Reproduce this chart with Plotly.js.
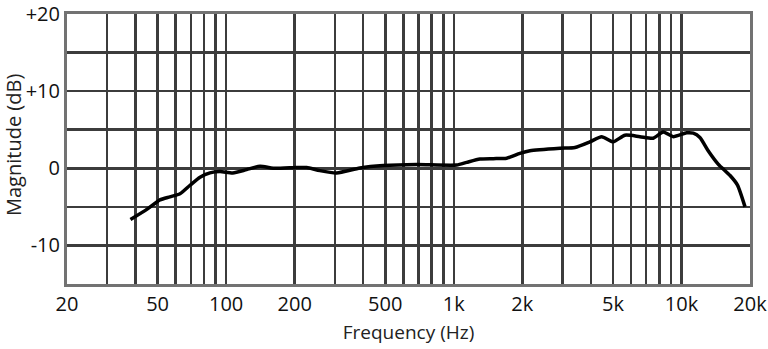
<!DOCTYPE html>
<html>
<head>
<meta charset="utf-8">
<script src="https://cdn.plot.ly/plotly-3.0.1.min.js"></script>
<style>html,body{margin:0;padding:0;background:#fff;}#chart{width:768px;height:349px;}</style>
</head>
<body>
<div id="chart"></div>
<script>
// Frequency response data
const freqHz = [38, 45, 51.2, 56.6, 62.7, 69.4, 76.8, 84.9, 94, 107, 123, 141, 161, 204, 226, 258, 306, 387, 490, 687, 1029, 1139, 1303, 1490, 1707, 1951, 2160, 2925, 3406, 3963, 4460, 5015, 5647, 6565, 7515, 8314, 9198, 10530, 11270, 12050, 13100, 14490, 16350, 17600, 19020];
const magnitudeDb = [-6.65, -5.3, -4.1, -3.7, -3.3, -2.2, -1.16, -0.6, -0.43, -0.6, -0.17, 0.26, 0.0, 0.1, 0.1, -0.3, -0.6, 0.04, 0.35, 0.48, 0.42, 0.77, 1.2, 1.25, 1.3, 1.93, 2.28, 2.6, 2.7, 3.43, 4.1, 3.43, 4.29, 4.1, 3.9, 4.7, 4.1, 4.6, 4.55, 4.0, 2.28, 0.55, -0.94, -2.15, -5.0];

const xGridVals = [20, 30, 40, 50, 60, 70, 80, 90, 100, 200, 300, 400, 500, 600, 700, 800, 900, 1000, 2000, 3000, 4000, 5000, 6000, 7000, 8000, 9000, 10000, 20000];
const xGridText = ['20', '', '', '50', '', '', '', '', '100', '200', '', '', '500', '', '', '', '', '1k', '2k', '', '', '5k', '', '', '', '', '10k', '20k'];
const yGridVals = [-15, -10, -5, 0, 5, 10, 15, 20];
const yGridText = ['', '-10', '', '0', '', '+10', '', '+20'];

const fontFamily = '"Open Sans", "DejaVu Sans", sans-serif';

const trace = {
  x: freqHz,
  y: magnitudeDb,
  type: 'scatter',
  mode: 'lines',
  line: {color: '#000', width: 3.5, shape: 'spline', smoothing: 0.6},
  hoverinfo: 'skip'
};

const layout = {
  width: 768,
  height: 349,
  margin: {l: 67, r: 18, t: 14, b: 65},
  paper_bgcolor: '#fff',
  plot_bgcolor: '#fff',
  showlegend: false,
  font: {family: fontFamily, color: '#111', size: 20},
  xaxis: {
    type: 'log',
    range: [Math.log10(20), Math.log10(20000)],
    tickmode: 'array',
    tickvals: xGridVals,
    ticktext: xGridText,
    showgrid: true,
    gridcolor: '#3c3c3c',
    gridwidth: 2.5,
    showline: true,
    mirror: true,
    linecolor: '#727272',
    linewidth: 3,
    ticks: '',
    zeroline: false,
    ticklabeloverflow: 'allow',
    tickfont: {size: 20, family: fontFamily, color: '#111'},
    title: {text: 'Frequency (Hz)', font: {size: 19, family: fontFamily, color: '#222'}, standoff: 10}
  },
  yaxis: {
    range: [-15, 20],
    tickmode: 'array',
    tickvals: yGridVals,
    ticktext: yGridText,
    showgrid: true,
    gridcolor: '#3c3c3c',
    gridwidth: 2.5,
    showline: true,
    mirror: true,
    linecolor: '#727272',
    linewidth: 3,
    ticks: '',
    zeroline: false,
    ticklabeloverflow: 'allow',
    tickfont: {size: 20, family: fontFamily, color: '#111'}
  },
  annotations: [{
    text: 'Magnitude (dB)',
    textangle: -90,
    xref: 'paper', yref: 'paper',
    x: 0, y: 0.5,
    xanchor: 'center', yanchor: 'middle',
    xshift: -54, yshift: 4,
    showarrow: false,
    font: {size: 20, family: fontFamily, color: '#222'}
  }]
};

Plotly.newPlot('chart', [trace], layout, {staticPlot: true, displayModeBar: false});
</script>
</body>
</html>
